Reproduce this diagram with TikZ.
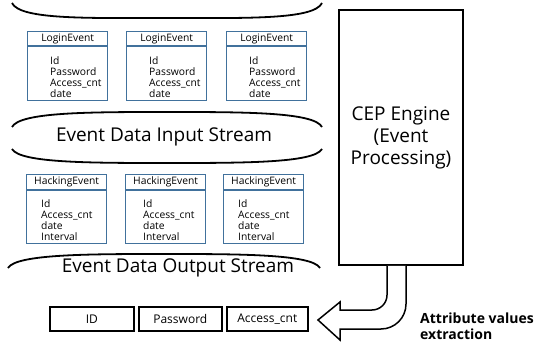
\documentclass[tikz,border=0pt]{standalone}
\usepackage{fontspec}
\setmainfont{Open Sans}
\definecolor{boxblue}{RGB}{65,113,156}
\tikzset{
  evbox/.style={draw=boxblue, line width=1.3pt, minimum width=80, minimum height=69,
                inner sep=0pt, anchor=north west},
  evhead/.style={font=\fontsize{10.3}{12}\selectfont, inner sep=0pt},
  evfields/.style={font=\fontsize{10.3}{11.3}\selectfont, align=left, inner sep=0pt, anchor=north west},
  streamarc/.style={line width=1.8pt},
  streamtext/.style={font=\fontsize{19}{22}\selectfont, inner sep=0pt},
  attrbox/.style={draw, line width=1.6pt, minimum height=24, inner sep=0pt,
                  font=\fontsize{12}{14}\selectfont, anchor=north west},
}
\newcommand{\loginbox}[3]{%
  \node[evbox] (#1) at (#2,#3) {};
  \draw[boxblue, line width=1.3pt] ([yshift=-15pt]#1.north west) -- ([yshift=-15pt]#1.north east);
  \node[evhead] (#1h) at ([yshift=-7.5pt]#1.north) {LoginEvent};
  \node[evfields] (#1f) at ([xshift=23pt,yshift=-25pt]#1.north west) {Id\\Password\\Access\_cnt\\date};
}
\newcommand{\hackbox}[4]{%
  \node[evbox] (#1) at (#2,#3) {};
  \draw[boxblue, line width=1.3pt] ([yshift=-16pt]#1.north west) -- ([yshift=-16pt]#1.north east);
  \node[evhead] (#1h) at ([yshift=-7.5pt]#1.north) {HackingEvent};
  \node[evfields] (#1f) at ([xshift=#4,yshift=-25pt]#1.north west) {Id\\Access\_cnt\\date\\Interval};
}
\begin{document}
\begin{tikzpicture}[x=1pt,y=-1pt]
\useasboundingbox (0,0) rectangle (537,344);

% stream boundaries
\draw[streamarc] (12,3) .. controls (20,20) and (90,18) .. (167,18)
                        .. controls (244,18) and (314,20) .. (322,3);
\draw[streamarc] (12,127) .. controls (20,112) and (90,112) .. (167,112)
                          .. controls (244,112) and (314,112) .. (322,127);
\draw[streamarc] (12,149) .. controls (20,163) and (90,163) .. (167,163)
                          .. controls (244,163) and (314,163) .. (322,149);
\draw[streamarc] (8,268) .. controls (16,254) and (90,254) .. (164,254)
                         .. controls (238,254) and (312,254) .. (320,268);

\node[streamtext] (instream) at (164,137) {Event Data Input Stream};
\node[streamtext] (outstream) at (178,268) {Event Data Output Stream};

% input events
\loginbox{l1}{27}{31}
\loginbox{l2}{126}{31}
\loginbox{l3}{226}{31}

% output events
\hackbox{h1}{26}{174}{15pt}
\hackbox{h2}{125}{174}{18pt}
\hackbox{h3}{223}{174}{15pt}

% engine
\node[draw, line width=1.5pt, minimum width=124, minimum height=255, inner sep=0pt,
      align=center, font=\fontsize{19}{22}\selectfont] (cep) at (401,137.5)
      {CEP Engine\\(Event\\Processing)};

% extracted attributes
\node[attrbox, minimum width=84] (aid) at (49,306) {ID};
\node[attrbox, minimum width=83] (apw) at (138,306) {Password};
\node[attrbox, minimum width=81] (acnt) at (226,306) {Access\_cnt};

% bent block arrow from the engine to the attributes
\draw[line width=1.5pt, line join=miter, fill=white]
  (cep.south -| 387,0) -- (387,295) arc[start angle=0, end angle=90, radius=15]
  -- (340,310) -- (340,302) -- (318,320) -- (340,340) -- (340,329) -- (381,329)
  arc[start angle=90, end angle=0, radius=25] -- (cep.south -| 406,0);

\node[font=\fontsize{14}{15.5}\selectfont\bfseries, align=left, anchor=west, inner sep=0pt]
  (extr) at (420,326) {Attribute values\\extraction};
\end{tikzpicture}
\end{document}
